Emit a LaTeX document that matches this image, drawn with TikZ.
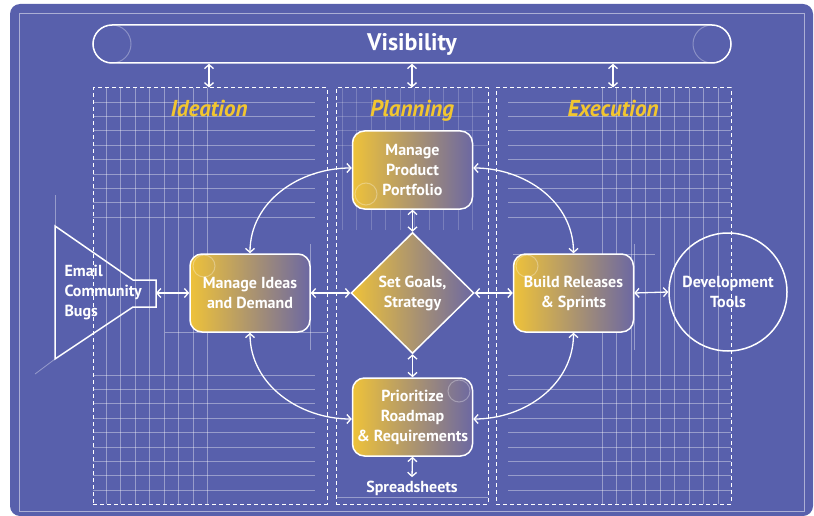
\documentclass[tikz,border=0pt]{standalone}
\usepackage{fontspec}
\setmainfont{PT Sans}
\usetikzlibrary{shapes.geometric,arrows.meta}
\definecolor{bg}{RGB}{88,96,172}
\definecolor{gold}{RGB}{242,198,47}
\definecolor{nodey}{RGB}{238,194,58}
\definecolor{nodem}{RGB}{150,130,140}
\definecolor{nodep}{RGB}{108,104,162}
\begin{document}
\begin{tikzpicture}[x=1pt,y=-1pt,
 conn/.style={draw=white,line width=1.3pt,{Straight Barb[length=4pt,width=9pt]}-{Straight Barb[length=4pt,width=9pt]}},
 proc/.style={draw=white,line width=1.5pt,rounded corners=12pt,left color=nodey,middle color=nodem,right color=nodep,text=white,font=\fontsize{16}{20}\selectfont\bfseries,align=center,minimum width=120pt,minimum height=78pt,inner sep=0pt},
 col/.style={draw=white,line width=1pt,dash pattern=on 4pt off 3pt},
 ttl/.style={text=gold,font=\fontsize{23}{26}\selectfont\bfseries\itshape,anchor=base},
 gridl/.style={draw=white,opacity=0.38,line width=0.8pt},
 deco/.style={draw=white,opacity=0.3,line width=1pt},
 lbl/.style={text=white,font=\fontsize{16}{20}\selectfont\bfseries,align=left}
]
\useasboundingbox (0,0) rectangle (814,516);
% background
\fill[bg,rounded corners=10pt] (10,4) rectangle (813,516);
\draw[white,opacity=0.5,line width=1pt] (19,14) rectangle (804,511);

% grid texture
\foreach \i in {0,...,7} {\draw[gridl] (106+14.5*\i,88) -- (106+14.5*\i,504);}
\foreach \j in {0,...,8} {\draw[gridl] (93,102+14.4*\j) -- (315,102+14.4*\j);
                          \draw[gridl] (93,375+14.4*\j) -- (315,375+14.4*\j);}
\foreach \i in {0,...,8} {\draw[gridl] (602+14.5*\i,88) -- (602+14.5*\i,504);}
\foreach \j in {0,...,8} {\draw[gridl] (508,102+14.4*\j) -- (731,102+14.4*\j);
                          \draw[gridl] (508,375+14.4*\j) -- (731,375+14.4*\j);}
\foreach \i in {0,...,9} {\draw[gridl,opacity=0.2] (342+14.5*\i,88) -- (342+14.5*\i,230);}
\foreach \j in {0,...,3} {\draw[gridl,opacity=0.2] (336,102+14.4*\j) -- (488,102+14.4*\j);}
\draw[gridl] (165,332) -- (327,332);
\draw[gridl] (310,244) -- (310,350);
\draw[gridl] (513,254) -- (655,254);
\draw[gridl] (634,244) -- (634,350);
\draw[gridl] (336,497) -- (488,497);
\draw[gridl] (55,195) -- (55,226);
\draw[gridl] (55,359) -- (35,374);

% columns
\node[col,minimum width=234pt,minimum height=416pt,inner sep=0pt] (c1) at (210,296) {};
\node[col,minimum width=152pt,minimum height=416pt,inner sep=0pt] (c2) at (412,296) {};
\node[col,minimum width=235pt,minimum height=416pt,inner sep=0pt] (c3) at (613.5,296) {};
\node[ttl] (t1) at (209,117) {Ideation};
\node[ttl] (t2) at (412,117) {Planning};
\node[ttl] (t3) at (613,117) {Execution};

% visibility bar
\node[draw=white,line width=1.5pt,rounded corners=19pt,minimum width=638pt,minimum height=38pt,inner sep=0pt,text=white,font=\fontsize{24}{26}\selectfont\bfseries] (vis) at (412,44) {Visibility};
\draw[deco] (112,44) circle (19pt);
\draw[deco] (712,44) circle (19pt);

% nodes
\node[proc] (pp) at (412.5,170) {Manage\\Product\\Portfolio};
\node[proc] (mi) at (250,293) {Manage Ideas\\and Demand};
\node[proc] (br) at (573.5,293) {Build Releases\\\& Sprints};
\node[proc] (pr) at (412.5,417) {Prioritize\\Roadmap\\\& Requirements};
\node[draw=white,line width=1.5pt,diamond,aspect=1,left color=nodey,middle color=nodem,right color=nodep,minimum width=123pt,minimum height=121pt,inner sep=0pt,text=white,font=\fontsize{16}{20}\selectfont\bfseries,align=center] (sg) at (412.5,293) {Set Goals,\\Strategy};
\node[draw=white,line width=1.5pt,circle,minimum size=118pt,inner sep=0pt,text=white,font=\fontsize{16}{20}\selectfont\bfseries,align=center] (dt) at (728,292) {Development\\Tools};
\node[text=white,font=\fontsize{16}{20}\selectfont\bfseries] (ss) at (412,488) {Spreadsheets};

\draw[deco] (366,194) circle (11pt);
\draw[deco] (204,266) circle (11pt);
\draw[deco] (527,266) circle (11pt);
\draw[deco] (459,391) circle (11pt);

% funnel
\draw[white,line width=1.5pt,line join=miter] (55,226) -- (133,280) -- (156,280) -- (156,307) -- (133,307) -- (55,359) -- cycle;
\coordinate (fr) at (156,293);
\node[lbl,anchor=west] (fl) at (61,293) {Email\\Community\\Bugs};

% connectors
\draw[conn] (vis.south -| t1) -- (c1.north -| t1);
\draw[conn] (vis.south -| t2) -- (c2.north -| t2);
\draw[conn] (vis.south -| t3) -- (c3.north -| t3);
\draw[conn] (fr) -- (mi.west);
\draw[conn] (mi.east) -- (sg.west);
\draw[conn] (sg.east) -- (br.west);
\draw[conn] (br.east) -- (dt.west);
\draw[conn] (pp.south) -- (sg.north);
\draw[conn] (sg.south) -- (pr.north);
\draw[conn] (pr.south) -- (ss.north);
\draw[conn] (mi.north) to[out=90,in=180] ([yshift=2pt]pp.west);
\draw[conn] ([yshift=2pt]pp.east) to[out=0,in=90] (br.north);
\draw[conn] (mi.south) to[out=-90,in=180] ([yshift=-2pt]pr.west);
\draw[conn] (br.south) to[out=-90,in=0] ([yshift=-2pt]pr.east);
\end{tikzpicture}
\end{document}
